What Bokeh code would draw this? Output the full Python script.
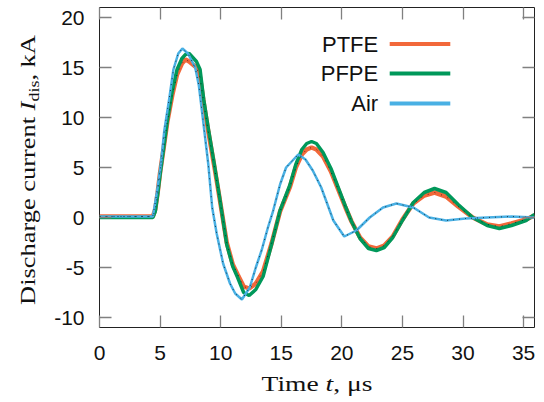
from bokeh.plotting import figure
from bokeh.models import LinearAxis, Range1d, SingleIntervalTicker, ColumnDataSource, Div, CustomJSTickFormatter
from bokeh.layouts import row, column
from bokeh.core.properties import value
from bokeh.embed import file_html
from bokeh.resources import INLINE

# ---------------- data ----------------
t_ptfe = [0, 4.4, 4.6, 4.8, 5.0, 5.3, 5.6, 6.0, 6.4, 6.8, 7.1, 7.4, 8.0, 8.3, 8.6,
          8.98, 9.45, 9.9, 10.5, 11.0, 11.4, 11.9, 12.35, 12.9, 13.5, 14.2, 14.9, 15.7,
          16.2, 16.7, 17.1, 17.5, 17.9, 18.45, 19.1, 19.7, 20.3, 20.8, 21.5, 22.2, 22.85,
          23.5, 24.2, 25.0, 25.9, 26.8, 27.65, 28.6, 29.6, 30.8, 32.0, 33.0, 34.0, 35.2, 35.9]
i_ptfe = [0.1, 0.1, 0.8, 2.5, 4.5, 7.0, 9.6, 12.2, 14.3, 15.4, 15.8, 15.6, 15.0, 14.0, 11.5,
          8.6, 5.3, 2.0, -2.5, -4.7, -5.7, -6.9, -7.1, -6.6, -5.4, -2.6, 0.6, 3.0,
          5.0, 6.3, 6.8, 7.0, 6.8, 6.1, 4.6, 2.8, 1.0, -0.4, -2.0, -2.9, -3.1,
          -2.8, -1.9, -0.2, 1.4, 2.2, 2.5, 2.1, 1.1, 0.0, -0.7, -0.9, -0.6, -0.2, 0.2]
t_pfpe = t_ptfe
i_pfpe = [0.0, 0.0, 0.6, 2.3, 4.3, 7.0, 9.7, 12.6, 14.8, 15.9, 16.3, 16.4, 15.6, 14.8, 11.8,
          8.9, 5.5, 2.1, -2.7, -4.9, -6.0, -7.5, -7.8, -7.2, -5.9, -2.7, 0.7, 3.2,
          5.3, 6.8, 7.4, 7.6, 7.4, 6.5, 4.9, 3.0, 1.1, -0.4, -2.1, -3.1, -3.3,
          -3.0, -2.0, -0.3, 1.5, 2.5, 2.9, 2.5, 1.3, 0.0, -0.8, -1.1, -0.8, -0.3, 0.3]
t_air = [0, 4.4, 4.6, 4.8, 5.06, 5.35, 5.77, 6.1, 6.5, 6.84, 7.3, 7.9, 8.2, 8.57, 8.98,
         9.3, 9.67, 10.2, 10.77, 11.2, 11.75, 12.4, 12.9, 13.4, 13.9, 14.33, 14.9, 15.4,
         16.4, 17.0, 17.6, 18.3, 19.3, 20.2, 21.2, 22.3, 23.4, 24.5, 25.9, 27.2, 28.6,
         30.2, 32.0, 34.0, 35.9]
i_air = [0.1, 0.1, 1.5, 3.0, 5.3, 8.7, 12.0, 14.8, 16.4, 16.9, 16.4, 15.0, 13.2, 9.5, 5.3,
         1.0, -1.6, -4.6, -6.6, -7.6, -8.2, -7.0, -5.0, -3.2, -1.0, 0.67, 3.3, 5.0,
         6.3, 5.8, 4.7, 3.0, -0.3, -1.9, -1.3, 0.0, 1.0, 1.4, 1.0, 0.0, -0.3,
         -0.1, 0.0, 0.1, 0.0]

series_names = ["PTFE", "PFPE", "Air"]
x_ticks_step = 5
y_ticks_step = 5

# ---------------- styles ----------------
SVG_FONT = "Liberation Sans"
CSS_FONT = "'Liberation Serif', 'Times New Roman', serif"
COL = {"PTFE": "#F2683A", "PFPE": "#00985A", "Air": "#49B0E4"}
TICK = "#808080"

p = figure(width=488, height=367, x_range=Range1d(0, 35.9), y_range=Range1d(-11, 21),
           output_backend="svg", toolbar_location=None,
           min_border_left=49, min_border_right=0, min_border_top=7, min_border_bottom=40)
p.xgrid.visible = False
p.ygrid.visible = False
p.outline_line_color = "#222222"
p.outline_line_width = 1
p.background_fill_color = "white"
p.border_fill_color = "white"

fmt = CustomJSTickFormatter(code="return tick.toFixed(0);")


def style_axis(ax, labels=True, standoff=10):
    ax.axis_line_color = None
    ax.major_tick_in = 12
    ax.major_tick_out = 0
    ax.major_tick_line_color = TICK
    ax.major_tick_line_width = 1.3
    ax.minor_tick_line_color = None
    ax.major_label_text_font = SVG_FONT
    ax.major_label_text_color = "#111111"
    ax.formatter = fmt
    if labels:
        ax.major_label_text_font_size = "21px"
        ax.major_label_standoff = standoff
    else:
        ax.major_label_text_font_size = "0px"
        ax.major_label_standoff = 0
        ax.major_label_text_alpha = 0


p.xaxis.ticker = SingleIntervalTicker(interval=x_ticks_step)
p.yaxis.ticker = SingleIntervalTicker(interval=y_ticks_step)
style_axis(p.xaxis[0], True, 14)
style_axis(p.yaxis[0], True, 11)

top = LinearAxis(ticker=SingleIntervalTicker(interval=x_ticks_step))
right = LinearAxis(ticker=SingleIntervalTicker(interval=y_ticks_step))
style_axis(top, False)
style_axis(right, False)
p.add_layout(top, "above")
p.add_layout(right, "right")

# ---------------- curves ----------------
p.line(t_ptfe, i_ptfe, line_color=COL["PTFE"], line_width=4.5)
p.line(t_pfpe, i_pfpe, line_color=COL["PFPE"], line_width=3.5)
p.line(t_air, i_air, line_color=COL["Air"], line_width=2.5)
# thin dotted black overlay seen along the traces
p.line(t_air, i_air, line_color="black", line_width=1, line_dash="1 5", line_alpha=0.7)
p.line(t_ptfe, i_ptfe, line_color="black", line_width=1, line_dash="1 6", line_alpha=0.6)

# ---------------- legend (gnuplot style: text left of sample) ----------------
leg = ColumnDataSource(dict(
    name=series_names,
    x=[23.0] * 3,
    y=[17.35, 14.4, 11.4],
    x0=[23.95] * 3,
    x1=[28.95] * 3,
    color=[COL[n] for n in series_names],
))
p.segment(x0="x0", y0="y", x1="x1", y1="y", line_color="color", line_width=4, source=leg)
p.text(x="x", y="y", text="name", source=leg, text_align="right", text_baseline="middle",
       text_font=value(SVG_FONT), text_font_size="22px", text_color="#111111")

# ---------------- axis titles as HTML (italic symbol + subscript) ----------------
ylab = Div(width=50, height=367, margin=0,
           text=('<div style="position:relative;width:50px;height:367px;">'
                 '<div style="position:absolute;left:29px;top:170px;'
                 'transform:translate(-50%,-50%) rotate(-90deg) scale(1.2,1);white-space:nowrap;'
                 f'font-family:{CSS_FONT};font-size:22px;line-height:25px;color:#111;">'
                 'Discharge current <i>I</i><span style="font-size:15px;position:relative;top:4px;">dis</span>, kA'
                 '</div></div>'))
xlab = Div(width=538, height=32, margin=0,
           text=('<div style="position:relative;width:538px;height:32px;">'
                 '<div style="position:absolute;left:317px;top:4px;transform:translateX(-50%) scale(1.25,1);'
                 f'white-space:nowrap;font-family:{CSS_FONT};font-size:22px;line-height:25px;color:#111;">'
                 'Time <i>t</i>, μs</div></div>'))

layout = column(row(ylab, p, spacing=0), xlab, spacing=0)
open("out.html", "w").write(file_html(layout, INLINE))
